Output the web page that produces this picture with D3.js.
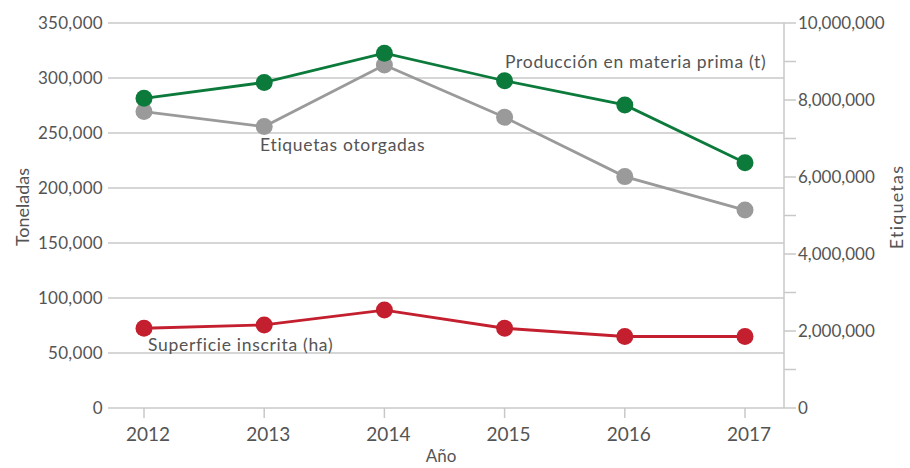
<!DOCTYPE html>
<html><head><meta charset="utf-8">
<script src="https://cdn.jsdelivr.net/npm/d3@7"></script>
<style>
body{margin:0;background:#fff;}
text{font-family:Lato,"Open Sans",sans-serif;fill:#545454;}
</style></head>
<body><svg id="c" width="910" height="468"></svg>
<script>
const years = ["2012","2013","2014","2015","2016","2017"];
const produccion = [281500, 296000, 322500, 297500, 275500, 223000];
const etiquetas = [7700000, 7310000, 8910000, 7550000, 6010000, 5140000];
const superficie = [72500, 75500, 89000, 72500, 65000, 65000];
const leftTicks = [0,50000,100000,150000,200000,250000,300000,350000];
const rightTicks = [0,1000000,2000000,3000000,4000000,5000000,6000000,7000000,8000000,9000000,10000000];
const rightLabelTicks = [0,2000000,4000000,6000000,8000000,10000000];

const svg = d3.select("#c");
const x = d3.scalePoint().domain(years).range([144,745]);
const yL = d3.scaleLinear().domain([0,350000]).range([408,23]);
const yR = d3.scaleLinear().domain([0,10000000]).range([408,23]);
const fmt = d3.format(",");
const gridColor = "#c8c8c8";

// gridlines + left labels
const gl = svg.append("g");
leftTicks.forEach(t=>{
  gl.append("line").attr("x1",108).attr("x2",784).attr("y1",yL(t)).attr("y2",yL(t))
    .attr("stroke",gridColor).attr("stroke-width",1.5);
  gl.append("text").attr("x",103).attr("y",yL(t)).attr("dy","0.35em")
    .attr("text-anchor","end").attr("font-size",17).attr("letter-spacing",0.3).text(fmt(t));
});

// right axis
const ra = svg.append("g");
ra.append("line").attr("x1",784).attr("x2",784).attr("y1",23).attr("y2",408)
  .attr("stroke",gridColor).attr("stroke-width",1.5);
rightTicks.forEach(t=>{
  ra.append("line").attr("x1",784).attr("x2",796).attr("y1",yR(t)).attr("y2",yR(t))
    .attr("stroke",gridColor).attr("stroke-width",1.5);
});
rightLabelTicks.forEach(t=>{
  ra.append("text").attr("x",798).attr("y",yR(t)).attr("dy","0.35em")
    .attr("font-size",17).text(fmt(t));
});

// x axis ticks
const xa = svg.append("g");
years.forEach(yv=>{
  xa.append("line").attr("x1",x(yv)).attr("x2",x(yv)).attr("y1",408).attr("y2",418)
    .attr("stroke",gridColor).attr("stroke-width",1.5);
  xa.append("text").attr("x",x(yv)+4).attr("y",441).attr("text-anchor","middle")
    .attr("font-size",19).text(yv);
});

// titles
svg.append("text").attr("x",441).attr("y",462).attr("text-anchor","middle").attr("font-size",17).text("Año");
svg.append("text").attr("transform","translate(29,207) rotate(-90)").attr("text-anchor","middle").attr("font-size",18).text("Toneladas");
svg.append("text").attr("transform","translate(903,207) rotate(-90)").attr("text-anchor","middle").attr("font-size",18).attr("letter-spacing",1.2).text("Etiquetas");

function series(vals, yScale, color){
  const line = d3.line().x((d,i)=>x(years[i])).y(d=>yScale(d));
  svg.append("path").datum(vals).attr("d",line).attr("fill","none")
    .attr("stroke",color).attr("stroke-width",2.8);
  svg.append("g").selectAll("circle").data(vals).join("circle")
    .attr("cx",(d,i)=>x(years[i])).attr("cy",d=>yScale(d)).attr("r",8.5).attr("fill",color);
}
series(etiquetas, yR, "#9a9a9a");
series(produccion, yL, "#0b7a3b");
series(superficie, yL, "#c41f2e");

svg.append("text").attr("x",505).attr("y",62).attr("dy","0.35em").attr("font-size",17.5).attr("letter-spacing",0.7).text("Producción en materia prima (t)");
svg.append("text").attr("x",260).attr("y",145).attr("dy","0.35em").attr("font-size",17.5).attr("letter-spacing",0.7).text("Etiquetas otorgadas");
svg.append("text").attr("x",148).attr("y",345).attr("dy","0.35em").attr("font-size",17.5).attr("letter-spacing",0.7).text("Superficie inscrita (ha)");
</script></body></html>
